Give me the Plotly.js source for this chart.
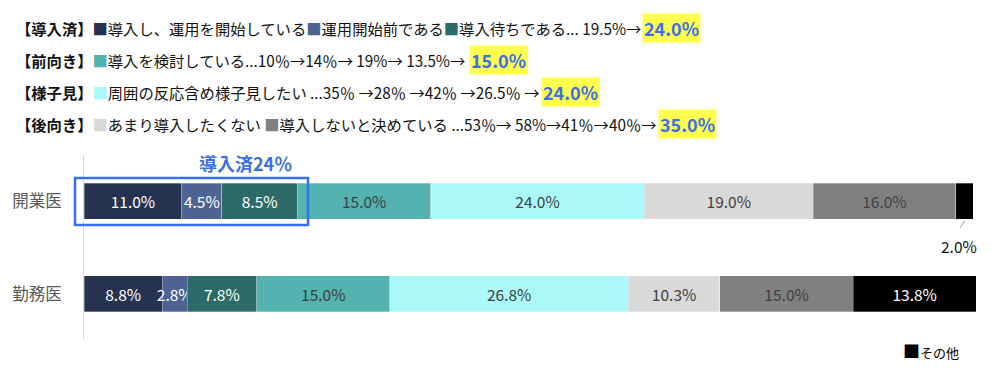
<!DOCTYPE html>
<html><head><meta charset="utf-8">
<script src="https://cdn.plot.ly/plotly-3.0.1.min.js"></script>
<style>html,body{margin:0;padding:0;background:#fff}#chart{width:1000px;height:378px}</style>
</head><body><div id="chart"></div>
<script>
const categories = ['開業医', '勤務医'];
const seriesNames = ['導入し、運用を開始している','運用開始前である','導入待ちである','導入を検討している','周囲の反応含め様子見したい','あまり導入したくない','導入しないと決めている','その他'];
const kaigyoValues = [11.0, 4.5, 8.5, 15.0, 24.0, 19.0, 16.0, 2.0];
const kinmuValues  = [8.8, 2.8, 7.8, 15.0, 26.8, 10.3, 15.0, 13.8];
const seriesColors = ['#253350','#4E6391','#2D6B68','#52B3B1','#AAF8F8','#D9D9D9','#808080','#000000'];
const labelColors  = ['#ffffff','#ffffff','#ffffff','#404040','#404040','#404040','#404040','#ffffff'];
const headerLines = [
  {tag:'【導入済】', items:[0,1,2], tail:'... 19.5%→', hl:'24.0%'},
  {tag:'【前向き】', items:[3], tail:'...10％→14％→ 19%→ 13.5%→', hl:'15.0%'},
  {tag:'【様子見】', items:[4], tail:' ...35％ →28％ →42％ →26.5％ →', hl:'24.0%'},
  {tag:'【後向き】', items:[5,6], tail:' ...53％→ 58%→41％→40％→', hl:'35.0%'}
];
const introducedLabel = '導入済24％';

const FONT = 'Noto Sans CJK JP, Noto Sans, sans-serif';
const sums = [kaigyoValues, kinmuValues].map(a => a.reduce((s, v) => s + v, 0));
const xMax = Math.max(...sums);

const traces = seriesNames.map((name, i) => {
  const vals = [kaigyoValues[i], kinmuValues[i]];
  const txt = vals.map((v, j) => (j === 0 && i === 7) ? ' ' : v.toFixed(1) + '%');
  return {
    type: 'bar', orientation: 'h', name: name,
    y: categories, x: vals, text: txt, texttemplate: '%{text}',
    textposition: 'inside', insidetextanchor: 'middle', constraintext: 'none', textangle: 0,
    textfont: {family: FONT, size: 15.5, color: labelColors[i]},
    marker: {color: seriesColors[i], line: {color: 'rgba(255,255,255,0.6)', width: 0.5}},
    hoverinfo: 'skip', showlegend: false, cliponaxis: false
  };
});

const L = 84, W = 892, B = 340, H = 185;
const px = x => (x - L) / W;
const py = y => (B - y) / H;
const lineY = [28, 60, 92, 124];
const hlX = [644, 477, 549, 652];

const annotations = [];
headerLines.forEach((ln, k) => {
  let t = '<b>' + ln.tag + '</b>';
  ln.items.forEach((idx, m) => {
    t += (m > 0 && k === 3 ? ' ' : '') + '<span style="color:' + seriesColors[idx] + '">■</span>' + seriesNames[idx];
  });
  t += ln.tail;
  annotations.push({xref:'paper', yref:'paper', x: px(14), y: py(lineY[k]), xanchor:'left', yanchor:'middle',
    text: t, showarrow:false, font:{family: FONT, size: 15.3, color:'#111'}});
  annotations.push({xref:'paper', yref:'paper', x: px(hlX[k]), y: py(lineY[k]), xanchor:'left', yanchor:'middle',
    text: '<b>' + ln.hl + '</b>', showarrow:false, bgcolor:'#FFFF4D', borderpad:1,
    font:{family: FONT, size: 18, color:'#3A6FE8'}});
});

annotations.push({xref:'paper', yref:'paper', x: px(245), y: py(163), xanchor:'center', yanchor:'middle',
  text:'<b>' + introducedLabel + '</b>', showarrow:false, font:{family: FONT, size: 18, color:'#3A6FE8'}});

const totalBeforeOther = kaigyoValues.slice(0,7).reduce((a,b)=>a+b,0);
annotations.push({xref:'x', yref:'paper', x: totalBeforeOther + kaigyoValues[7]/2 - 0.6, y: py(246), xanchor:'center', yanchor:'middle',
  text: kaigyoValues[7].toFixed(1) + '%', showarrow:false, font:{family: FONT, size: 15.5, color:'#111'}});

annotations.push({xref:'paper', yref:'paper', x: px(901), y: py(350), xanchor:'left', yanchor:'middle',
  text:'■<span style="font-size:13px">' + seriesNames[7] + '</span>', showarrow:false, font:{family: FONT, size: 17, color:'#000'}});

const shapes = [
  {type:'rect', xref:'paper', yref:'paper', x0: px(75), x1: px(308), y0: py(225), y1: py(178),
   line:{color:'#3A6FE8', width:2.5}, fillcolor:'rgba(0,0,0,0)'},
  {type:'line', xref:'x', yref:'paper', x0: totalBeforeOther + kaigyoValues[7]/2, x1: totalBeforeOther + kaigyoValues[7]/2 - 0.5,
   y0: py(221), y1: py(228), line:{color:'#999', width:1}}
];

const layout = {
  width: 1000, height: 378,
  margin: {l: L, r: 1000 - L - W, t: 155, b: 38},
  paper_bgcolor: '#fff', plot_bgcolor: '#fff',
  barmode: 'stack', bargap: 0.61,
  xaxis: {range: [0, xMax], showgrid: false, zeroline: false, showticklabels: false, ticks: '', fixedrange: true},
  yaxis: {autorange: 'reversed', showline: true, linecolor: '#D9D9D9', linewidth: 1, ticks: '', ticklen: 0,
          tickfont: {family: FONT, size: 16.5, color: '#595959'}, ticklabelstandoff: 18, fixedrange: true},
  annotations: annotations, shapes: shapes,
  font: {family: FONT}
};
Plotly.newPlot('chart', traces, layout, {staticPlot: true}).then(gd => {
  const upd = {};
  const root = gd.getBoundingClientRect();
  headerLines.forEach((ln, k) => {
    const el = gd.querySelector('.annotation[data-index="' + (2 * k) + '"] .annotation-text-g text');
    if (!el) return;
    const r = el.getBoundingClientRect();
    const right = r.right - root.left;
    if (right > 0) upd['annotations[' + (2 * k + 1) + '].x'] = px(Math.max(right + 1, hlX[k] - 8));
  });
  if (Object.keys(upd).length) Plotly.relayout(gd, upd);
});
</script></body></html>
